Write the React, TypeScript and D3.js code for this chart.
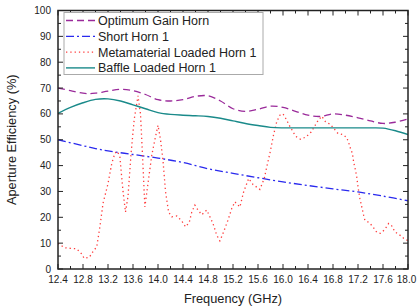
import React from "react";
import * as d3 from "d3";

const optFreq = [12.4, 12.6, 12.8, 12.9, 13.0, 13.2, 13.4, 13.6, 13.8, 14.0, 14.2, 14.4, 14.6, 14.8, 15.0, 15.2, 15.4, 15.6, 15.8, 16.0, 16.2, 16.4, 16.6, 16.8, 17.0, 17.2, 17.4, 17.6, 17.8, 18.0];
const optVals = [70, 69, 68, 67.8, 68, 68.8, 69.5, 69, 67.5, 65.5, 65, 65.5, 66.8, 67, 65, 62, 61, 61.8, 63, 62.5, 61, 59.5, 59, 60, 59.5, 58.5, 57.3, 56.3, 56.8, 58];

const shortFreq = [12.4, 12.8, 13.0, 13.2, 13.6, 14.0, 14.4, 14.8, 15.2, 15.6, 16.0, 16.4, 16.8, 17.2, 17.6, 18.0];
const shortVals = [50, 47.7, 46.6, 45.7, 44.3, 42.9, 41.2, 38.8, 37, 35.3, 33.7, 32.3, 31, 29.8, 28.2, 26.4];

const metaFreq = [12.4, 12.51, 12.6, 12.7, 12.78, 12.82, 12.9, 12.96, 13.02, 13.07, 13.12, 13.2, 13.26, 13.31, 13.35, 13.39, 13.44, 13.48, 13.52, 13.57, 13.62, 13.68, 13.72, 13.75, 13.79, 13.85, 13.9, 13.95, 14.0, 14.04, 14.08, 14.12, 14.17, 14.22, 14.3, 14.38, 14.44, 14.5, 14.54, 14.59, 14.64, 14.7, 14.78, 14.88, 14.94, 14.99, 15.05, 15.12, 15.18, 15.23, 15.31, 15.37, 15.45, 15.52, 15.63, 15.7, 15.74, 15.79, 15.85, 15.9, 15.95, 16.0, 16.05, 16.1, 16.2, 16.28, 16.37, 16.45, 16.5, 16.55, 16.62, 16.68, 16.76, 16.88, 16.96, 17.02, 17.05, 17.08, 17.11, 17.13, 17.16, 17.18, 17.2, 17.23, 17.29, 17.31, 17.38, 17.44, 17.5, 17.56, 17.63, 17.69, 17.74, 17.79, 17.87, 17.95, 18.0];
const metaVals = [9.9, 8.2, 8, 7.8, 5.8, 4.1, 4.5, 6.7, 8.6, 16.3, 25.4, 33, 40.8, 44.8, 45.5, 43.4, 30, 22, 28, 45, 58, 67, 60, 45, 24, 35, 44, 50, 55.6, 50, 42, 30, 22, 20.2, 20.5, 18.6, 16.3, 18, 22, 24.7, 22.8, 21, 22.8, 17.6, 13.1, 10.9, 14.4, 18.9, 23.4, 26, 24, 29.8, 35, 32.7, 30.8, 35, 39.5, 44.7, 52, 57, 59.5, 60, 58, 55.6, 51.4, 50.2, 51.1, 53, 55, 57, 59.1, 57, 55.9, 52.4, 52, 50.8, 48.9, 46.6, 44.7, 41.4, 38.2, 35.6, 31.8, 27.3, 20.8, 18.9, 17.9, 16.3, 14.2, 13.8, 15.3, 17.6, 16.7, 14.4, 13.1, 11.5, 11];

const baffleFreq = [12.4, 12.6, 12.8, 13.0, 13.2, 13.4, 13.6, 13.8, 14.0, 14.2, 14.4, 14.6, 14.8, 15.0, 15.2, 15.4, 15.6, 15.8, 16.0, 16.4, 16.8, 17.2, 17.4, 17.6, 17.8, 18.0];
const baffleVals = [60.2, 62.5, 64.3, 65.6, 65.8, 65, 63.5, 62, 60.5, 59.8, 59.5, 59.3, 59, 58.3, 57.3, 56.3, 55.5, 54.8, 54.6, 54.6, 54.6, 54.6, 54.6, 54.5, 53.5, 52];

const xTicks = [12.4, 12.8, 13.2, 13.6, 14.0, 14.4, 14.8, 15.2, 15.6, 16.0, 16.4, 16.8, 17.2, 17.6, 18.0];
const yTicks = [0, 10, 20, 30, 40, 50, 60, 70, 80, 90, 100];
const legendLabels = ["Optimum Gain Horn", "Short Horn 1", "Metamaterial Loaded Horn 1", "Baffle Loaded Horn 1"];

const W = 417, H = 307;
const L = 58, R = 408, T = 10.5, B = 269;
const FONT = "'Liberation Sans', Arial, sans-serif";

export default function App() {
  const x = d3.scaleLinear().domain([12.4, 18.0]).range([L, R]);
  const y = d3.scaleLinear().domain([0, 100]).range([B, T]);

  const smooth = d3.line<[number, number]>().x(d => x(d[0])).y(d => y(d[1])).curve(d3.curveCatmullRom.alpha(0.5));
  const straight = d3.line<[number, number]>().x(d => x(d[0])).y(d => y(d[1]));

  const zip = (a: number[], b: number[]) => a.map((v, i) => [v, b[i]] as [number, number]);

  const series = [
    { d: smooth(zip(optFreq, optVals)), color: "#9a2a9a", dash: "7,4", w: 1.3 },
    { d: smooth(zip(shortFreq, shortVals)), color: "#2a2aee", dash: "8,3,2,3", w: 1.3 },
    { d: straight(zip(metaFreq, metaVals)), color: "#ff3a3a", dash: "1.3,3", w: 1.3 },
    { d: smooth(zip(baffleFreq, baffleVals)), color: "#1a8a8a", dash: "", w: 1.4 },
  ];

  const xMinor = d3.range(0, 29).map(i => 12.4 + i * 0.2);
  const yMinor = d3.range(0, 21).map(i => i * 5);

  return (
    <svg width={W} height={H} style={{ position: "absolute", left: 0, top: 0, background: "#fff" }}>
      <rect x={0} y={0} width={W} height={H} fill="#fff" />
      <defs>
        <clipPath id="plot">
          <rect x={L} y={T} width={R - L} height={B - T} />
        </clipPath>
      </defs>
      <g clipPath="url(#plot)">
        {series.map((s, i) => (
          <path key={i} d={s.d || ""} fill="none" stroke={s.color} strokeWidth={s.w} strokeDasharray={s.dash || undefined} />
        ))}
      </g>
      {/* ticks */}
      <g stroke="#222" strokeWidth={1}>
        {xMinor.map((v, i) => {
          const major = i % 2 === 0;
          const len = major ? 5 : 3;
          return (
            <g key={"xt" + i}>
              <line x1={x(v)} x2={x(v)} y1={B} y2={B - len} />
              <line x1={x(v)} x2={x(v)} y1={T} y2={T + len} />
            </g>
          );
        })}
        {yMinor.map((v, i) => {
          const major = i % 2 === 0;
          const len = major ? 5 : 3;
          return (
            <g key={"yt" + i}>
              <line x1={L} x2={L + len} y1={y(v)} y2={y(v)} />
              <line x1={R} x2={R - len} y1={y(v)} y2={y(v)} />
            </g>
          );
        })}
      </g>
      <rect x={L} y={T} width={R - L} height={B - T} fill="none" stroke="#222" strokeWidth={1.5} />
      {/* tick labels */}
      <g fontFamily={FONT} fontSize={10} fill="#222">
        {xTicks.map((v, i) => (
          <text key={"xl" + v} x={x(v) - (i === xTicks.length - 1 ? 1.5 : 0)} y={B + 14} textAnchor="middle">{v.toFixed(1)}</text>
        ))}
        {yTicks.map(v => (
          <text key={"yl" + v} x={L - 7} y={y(v) + 3.5} textAnchor="end">{v}</text>
        ))}
      </g>
      <text x={(L + R) / 2} y={303} textAnchor="middle" fontFamily={FONT} fontSize={12.8} fill="#222">Frequency (GHz)</text>
      <text transform={`translate(15.5,${(T + B) / 2}) rotate(-90)`} textAnchor="middle" fontFamily={FONT} fontSize={12.8} fill="#222">Aperture Efficiency (%)</text>
      {/* legend */}
      <rect x={64} y={12.5} width={199} height={62} fill="#fff" stroke="#aaa" strokeWidth={1} />
      {legendLabels.map((lab, i) => {
        const yy = 20.5 + i * 15.8;
        const s = series[i];
        return (
          <g key={"lg" + i}>
            <line x1={66} x2={95} y1={yy} y2={yy} stroke={s.color} strokeWidth={s.w} strokeDasharray={s.dash || undefined} />
            <text x={98} y={yy + 4.5} fontFamily={FONT} fontSize={12.5} fill="#222">{lab}</text>
          </g>
        );
      })}
    </svg>
  );
}
